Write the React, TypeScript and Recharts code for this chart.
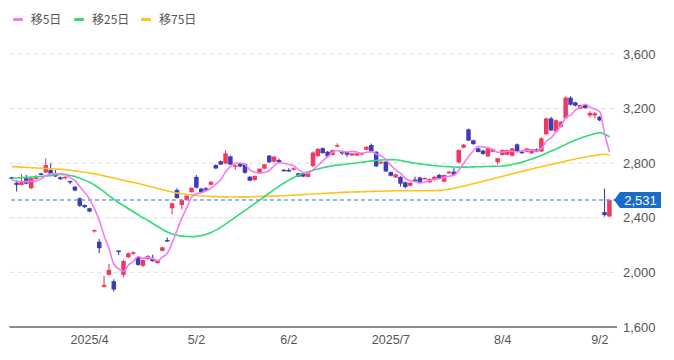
import React from 'react';
import { ComposedChart, Bar, Line, XAxis, YAxis, CartesianGrid, ReferenceLine } from 'recharts';

const dates = [
  '3/7', '3/10', '3/11', '3/12', '3/13', '3/14', '3/17', '3/18', '3/19', '3/21',
  '3/24', '3/25', '3/26', '3/27', '3/28', '3/31', '4/1', '4/2', '4/3', '4/4',
  '4/7', '4/8', '4/9', '4/10', '4/11', '4/14', '4/15', '4/16', '4/17', '4/18',
  '4/21', '4/22', '4/23', '4/24', '4/25', '4/28', '4/30', '5/1', '5/2', '5/7',
  '5/8', '5/9', '5/12', '5/13', '5/14', '5/15', '5/16', '5/19', '5/20', '5/21',
  '5/22', '5/23', '5/26', '5/27', '5/28', '5/29', '5/30', '6/2', '6/3', '6/4',
  '6/5', '6/6', '6/9', '6/10', '6/11', '6/12', '6/13', '6/16', '6/17', '6/18',
  '6/19', '6/20', '6/23', '6/24', '6/25', '6/26', '6/27', '6/30', '7/1', '7/2',
  '7/3', '7/4', '7/7', '7/8', '7/9', '7/10', '7/11', '7/14', '7/15', '7/16',
  '7/17', '7/18', '7/22', '7/23', '7/24', '7/25', '7/28', '7/29', '7/30', '7/31',
  '8/1', '8/4', '8/5', '8/6', '8/7', '8/8', '8/12', '8/13', '8/14', '8/15',
  '8/18', '8/19', '8/20', '8/21', '8/22', '8/25', '8/26', '8/27', '8/28', '8/29',
  '9/1', '9/2', '9/3', '9/4',
];

const opens = [
  2697, 2657, 2641, 2690, 2617, 2685, 2725, 2732, 2750, 2718,
  2697, 2690, 2670, 2628, 2543, 2494, 2470, 2303, 2225, 1895,
  1982, 1935, 2160, 1982, 2110, 2137, 2113, 2048, 2098, 2100,
  2068, 2158, 2237, 2470, 2604, 2494, 2530, 2588, 2700, 2614,
  2616, 2642, 2786, 2814, 2797, 2850, 2776, 2794, 2792, 2701,
  2677, 2724, 2760, 2855, 2811, 2823, 2752, 2750, 2752, 2726,
  2726, 2700, 2780, 2852, 2910, 2884, 2860, 2921, 2889, 2882,
  2856, 2856, 2862, 2898, 2933, 2884, 2800, 2811, 2735, 2696,
  2700, 2660, 2635, 2680, 2695, 2686, 2660, 2677, 2714, 2665,
  2726, 2738, 2806, 2914, 3048, 2968, 2909, 2892, 2850, 2884,
  2806, 2860, 2862, 2855, 2938, 2884, 2884, 2873, 2902, 2886,
  3012, 3128, 3032, 3067, 3130, 3280, 3246, 3198, 3226, 3150,
  3150, 3140, 2442, 2410,
];

const highs = [
  2700, 2677, 2720, 2714, 2695, 2714, 2730, 2836, 2800, 2750,
  2702, 2704, 2672, 2632, 2548, 2498, 2474, 2313, 2245, 1975,
  2062, 1950, 2162, 2092, 2145, 2155, 2120, 2092, 2127, 2130,
  2091, 2188, 2255, 2510, 2616, 2535, 2566, 2622, 2714, 2620,
  2625, 2668, 2792, 2820, 2895, 2856, 2790, 2800, 2800, 2706,
  2710, 2760, 2795, 2860, 2852, 2835, 2756, 2763, 2768, 2730,
  2730, 2730, 2885, 2910, 2915, 2890, 2898, 2946, 2893, 2885,
  2875, 2876, 2880, 2925, 2945, 2888, 2815, 2815, 2740, 2722,
  2704, 2665, 2660, 2700, 2700, 2696, 2690, 2705, 2720, 2716,
  2742, 2763, 2900, 2940, 3055, 2972, 2915, 2898, 2912, 2906,
  2840, 2900, 2900, 2912, 2945, 2890, 2912, 2905, 2908, 2990,
  3135, 3140, 3120, 3110, 3290, 3290, 3250, 3230, 3232, 3180,
  3175, 3145, 2612, 2535,
];

const lows = [
  2680, 2592, 2636, 2645, 2610, 2680, 2712, 2728, 2702, 2698,
  2678, 2680, 2645, 2595, 2480, 2472, 2440, 2290, 2142, 1890,
  1978, 1860, 2128, 1965, 2105, 2130, 2048, 2040, 2091, 2079,
  2064, 2155, 2222, 2426, 2540, 2462, 2528, 2585, 2615, 2580,
  2595, 2638, 2758, 2788, 2792, 2787, 2750, 2770, 2722, 2668,
  2672, 2720, 2755, 2802, 2806, 2800, 2740, 2738, 2748, 2698,
  2698, 2696, 2770, 2848, 2870, 2840, 2855, 2916, 2860, 2845,
  2852, 2852, 2858, 2895, 2880, 2772, 2795, 2735, 2702, 2692,
  2630, 2616, 2630, 2665, 2655, 2682, 2655, 2672, 2686, 2660,
  2722, 2712, 2800, 2910, 2962, 2936, 2878, 2862, 2845, 2880,
  2790, 2855, 2858, 2850, 2880, 2870, 2880, 2868, 2880, 2882,
  3008, 3035, 3028, 3060, 3125, 3222, 3215, 3195, 3198, 3135,
  3130, 3108, 2410, 2405,
];

const closes = [
  2686, 2641, 2670, 2650, 2690, 2697, 2716, 2786, 2722, 2703,
  2683, 2701, 2663, 2600, 2488, 2478, 2446, 2311, 2178, 1908,
  2018, 1875, 2155, 2083, 2140, 2147, 2055, 2090, 2120, 2082,
  2089, 2184, 2229, 2506, 2545, 2530, 2562, 2620, 2621, 2587,
  2600, 2664, 2762, 2790, 2872, 2790, 2784, 2776, 2730, 2672,
  2706, 2760, 2792, 2807, 2848, 2808, 2745, 2742, 2762, 2702,
  2702, 2726, 2878, 2905, 2874, 2850, 2895, 2932, 2872, 2862,
  2872, 2872, 2875, 2920, 2886, 2777, 2810, 2740, 2708, 2718,
  2650, 2625, 2656, 2676, 2662, 2692, 2684, 2701, 2690, 2714,
  2738, 2716, 2897, 2936, 2966, 2940, 2882, 2868, 2908, 2902,
  2836, 2897, 2896, 2908, 2885, 2874, 2908, 2902, 2885, 2982,
  3128, 3040, 3115, 3104, 3280, 3228, 3222, 3226, 3204, 3168,
  3166, 3114, 2420, 2531,
];

const ma5 = [
  2677, 2668, 2666, 2665, 2667, 2670, 2685, 2708, 2722, 2725,
  2722, 2719, 2694, 2670, 2627, 2586, 2535, 2465, 2380, 2264,
  2172, 2058, 2027, 2008, 2054, 2080, 2116, 2103, 2110, 2099,
  2087, 2113, 2141, 2218, 2311, 2399, 2474, 2553, 2576, 2584,
  2598, 2618, 2647, 2681, 2738, 2776, 2800, 2802, 2790, 2750,
  2734, 2729, 2732, 2747, 2783, 2803, 2800, 2790, 2781, 2752,
  2731, 2727, 2754, 2783, 2817, 2847, 2880, 2891, 2885, 2882,
  2887, 2882, 2871, 2880, 2885, 2866, 2854, 2827, 2784, 2751,
  2725, 2688, 2671, 2665, 2654, 2662, 2674, 2683, 2686, 2696,
  2705, 2712, 2751, 2800, 2851, 2891, 2924, 2918, 2913, 2900,
  2879, 2882, 2888, 2888, 2884, 2892, 2894, 2895, 2891, 2910,
  2961, 2987, 3030, 3074, 3133, 3153, 3190, 3212, 3232, 3210,
  3197, 3176, 3014, 2880,
];

const ma25 = [
  2690, 2692, 2694, 2696, 2698, 2700, 2703, 2707, 2711, 2715,
  2718, 2716, 2710, 2702, 2690, 2676, 2660, 2640, 2615, 2590,
  2560, 2535, 2510, 2488, 2466, 2444, 2422, 2400, 2380, 2358,
  2336, 2315, 2296, 2282, 2272, 2266, 2263, 2262, 2264, 2270,
  2280, 2293, 2310, 2330, 2355, 2380, 2405, 2430, 2455, 2480,
  2505, 2530, 2556, 2582, 2608, 2632, 2655, 2676, 2695, 2712,
  2726, 2738, 2748, 2758, 2767, 2775, 2781, 2786, 2790, 2794,
  2798, 2802, 2807, 2812, 2817, 2820, 2823, 2825, 2826, 2825,
  2820, 2813, 2806, 2800, 2795, 2790, 2786, 2782, 2779, 2776,
  2774, 2772, 2771, 2771, 2772, 2773, 2774, 2775, 2776, 2777,
  2778, 2780, 2784, 2790, 2798, 2808, 2819, 2831, 2844, 2858,
  2873, 2889, 2905, 2921, 2938, 2955, 2970, 2983, 2995, 3006,
  3016, 3024, 3012, 2994,
];

const ma75 = [
  2775, 2773, 2771, 2769, 2767, 2765, 2763, 2761, 2759, 2757,
  2755, 2752, 2748, 2744, 2739, 2734, 2728, 2722, 2715, 2707,
  2699, 2691, 2683, 2675, 2667, 2659, 2651, 2642, 2633, 2624,
  2615, 2606, 2597, 2589, 2582, 2576, 2571, 2567, 2563, 2560,
  2558, 2556, 2555, 2554, 2553, 2552, 2552, 2553, 2553, 2554,
  2555, 2556, 2557, 2558, 2560, 2561, 2562, 2564, 2566, 2568,
  2570, 2572, 2574, 2576, 2578, 2580, 2582, 2584, 2586, 2588,
  2589, 2590, 2591, 2592, 2593, 2594, 2595, 2596, 2597, 2598,
  2598, 2598, 2598, 2598, 2598, 2598, 2598, 2599, 2601, 2604,
  2610, 2617, 2625, 2633, 2641, 2650, 2659, 2668, 2677, 2686,
  2695, 2704, 2713, 2722, 2731, 2740, 2749, 2758, 2767, 2775,
  2783, 2791, 2799, 2807, 2815, 2823, 2831, 2838, 2845, 2851,
  2857, 2863, 2866, 2860,
];

const tickDates = ['4/1', '5/2', '6/2', '7/1', '8/4', '9/2'];
const tickLabels = ['2025/4', '5/2', '6/2', '2025/7', '8/4', '9/2'];
const yTicks = [1600, 2000, 2400, 2800, 3200, 3600];
const lastPrice = 2531;

const seriesNames = ['移5日', '移25日', '移75日'];
const seriesColors = ['#f47cf2', '#2fdc78', '#ffc41c'];

const UP = '#f2385f';
const DOWN = '#3c3db5';

const data = dates.map((d, i) => ({
  date: d,
  open: opens[i],
  high: highs[i],
  low: lows[i],
  close: closes[i],
  ma5: ma5[i],
  ma25: ma25[i],
  ma75: ma75[i],
}));

const Candle = (props: any) => {
  const { x, y, width, height, payload } = props;
  if (!payload || x == null || y == null) return null;
  const { open, close, high, low } = payload;
  const ratio = high === low ? 0 : height / (high - low);
  const py = (v: number) => y + (high - v) * ratio;
  const color = close >= open ? UP : DOWN;
  const cx = x + width / 2;
  const top = py(Math.max(open, close));
  const bot = py(Math.min(open, close));
  const bh = Math.max(bot - top, 1.5);
  return (
    <g>
      <line x1={cx} x2={cx} y1={y} y2={y + height} stroke={color} strokeWidth={1.1} />
      <rect x={x} y={top} width={width} height={bh} fill={color} />
    </g>
  );
};

const PriceTag = (props: any) => {
  const vb = props.viewBox || {};
  const xr = (vb.x ?? 0) + (vb.width ?? 0);
  const yy = vb.y ?? 0;
  return (
    <g>
      <polygon
        points={`${xr - 3},${yy} ${xr + 3},${yy - 8} ${xr + 44},${yy - 8} ${xr + 44},${yy + 8} ${xr + 3},${yy + 8}`}
        fill="#1a6bcb"
      />
      <text
        x={xr + 23.5}
        y={yy}
        dy="0.36em"
        textAnchor="middle"
        fill="#ffffff"
        fontSize={13}
        fontFamily="'Liberation Sans', Arial, sans-serif"
      >
        {lastPrice.toLocaleString('en-US')}
      </text>
    </g>
  );
};

const legendX = [12.7, 74, 141];

export default function App() {
  return (
    <div style={{ position: 'absolute', left: 0, top: 0, width: 674, height: 360, background: '#fff', overflow: 'hidden' }}>
      {seriesNames.map((n, i) => (
        <div key={n} style={{ position: 'absolute', left: legendX[i], top: 11, height: 16, display: 'flex', alignItems: 'center' }}>
          <span style={{ display: 'inline-block', width: 10, height: 3, background: seriesColors[i], borderRadius: 1 }} />
          <span
            style={{
              marginLeft: 8,
              fontFamily: "'Noto Sans CJK JP', sans-serif",
              fontSize: 12,
              lineHeight: '16px',
              color: '#555',
            }}
          >
            {n}
          </span>
        </div>
      ))}
      <ComposedChart
        width={674}
        height={360}
        data={data}
        margin={{ top: 54, right: 0, bottom: 3, left: 9.5 }}
        style={{ position: 'absolute', left: 0, top: 0 }}
      >
        <CartesianGrid vertical={false} stroke="#dcdcdc" strokeDasharray="4 4" />
        <XAxis
          dataKey="date"
          ticks={tickDates}
          interval={0}
          tickFormatter={(v: string) => {
            const k = tickDates.indexOf(v);
            return k >= 0 ? tickLabels[k] : v;
          }}
          axisLine={{ stroke: '#8a8a8a', strokeWidth: 2 }}
          tickLine={false}
          tick={{ fill: '#555', fontSize: 12.5, fontFamily: "'Liberation Sans', Arial, sans-serif" }}
          padding={{ left: 0, right: 5 }}
          height={30}
        />
        <YAxis
          orientation="right"
          domain={[1600, 3600]}
          ticks={yTicks}
          interval={0}
          allowDataOverflow
          tickFormatter={(v: number) => v.toLocaleString('en-US')}
          axisLine={false}
          tickLine={false}
          tickSize={4}
          tickMargin={2}
          width={57}
          tick={{ fill: '#555', fontSize: 13, fontFamily: "'Liberation Sans', Arial, sans-serif" }}
        />
        <ReferenceLine
          y={lastPrice}
          stroke="#6aa6e2"
          strokeWidth={1.5}
          strokeDasharray="4 3"
          label={<PriceTag />}
        />
        <Bar
          dataKey={(d: any) => [d.low, d.high]}
          shape={(p: any) => <Candle {...p} />}
          barSize={4.5}
          isAnimationActive={false}
        />
        <Line type="monotone" dataKey="ma75" stroke={seriesColors[2]} strokeWidth={1.6} dot={false} activeDot={false} isAnimationActive={false} />
        <Line type="monotone" dataKey="ma25" stroke={seriesColors[1]} strokeWidth={1.6} dot={false} activeDot={false} isAnimationActive={false} />
        <Line type="monotone" dataKey="ma5" stroke={seriesColors[0]} strokeWidth={1.6} dot={false} activeDot={false} isAnimationActive={false} />
      </ComposedChart>
    </div>
  );
}
